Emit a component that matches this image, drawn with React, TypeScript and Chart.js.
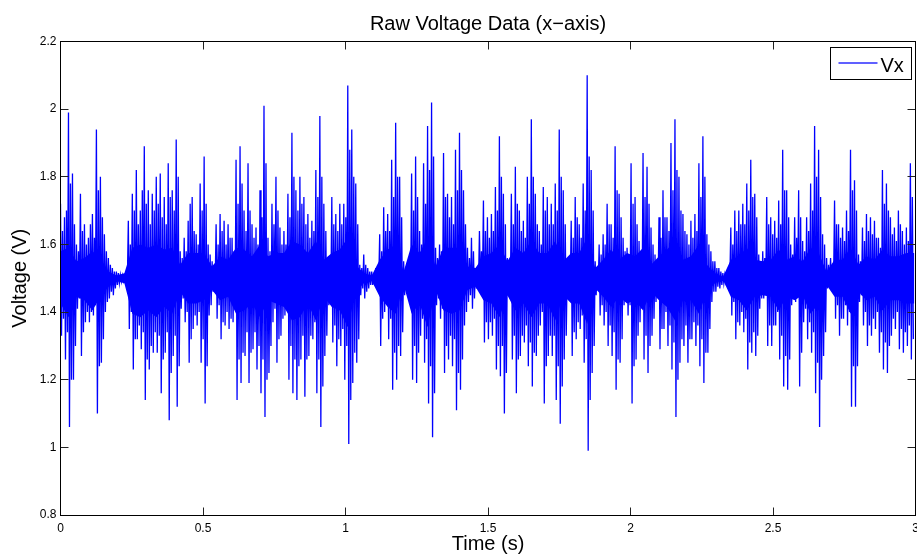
import React, { useEffect, useRef } from "react";
import { Chart, registerables } from "chart.js";

Chart.register(...registerables);

// ---- data ----
// every sampleStep seconds: highest / lowest tip, and second-tier tips
const sampleStep = 0.014;
const vxHigh = [
  1.72, 1.68, 1.99, 1.81, 1.60, 1.75, 1.66, 1.62, 1.69, 1.94,
  1.80, 1.63, 1.56, 1.53, 1.52, 1.51, 1.507, 1.67, 1.75, 1.82,
  1.70, 1.89, 1.76, 1.75, 1.80, 1.81, 1.74, 1.84, 1.76, 1.91,
  1.58, 1.62, 1.67, 1.74, 1.63, 1.78, 1.86, 1.60, 1.55, 1.66,
  1.69, 1.67, 1.66, 1.62, 1.85, 1.89, 1.70, 1.84, 1.66, 1.65,
  1.76, 2.01, 1.62, 1.72, 1.80, 1.65, 1.64, 1.75, 1.93, 1.76,
  1.80, 1.74, 1.69, 1.67, 1.82, 1.98, 1.72, 1.56, 1.74, 1.69,
  1.72, 1.72, 2.07, 1.94, 1.78, 1.54, 1.57, 1.53, 1.52, 1.53,
  1.63, 1.71, 1.69, 1.85, 1.96, 1.80, 1.55, 1.55, 1.81, 1.86,
  1.64, 1.84, 1.95, 2.02, 1.59, 1.60, 1.87, 1.75, 1.74, 1.88,
  1.93, 1.76, 1.59, 1.62, 1.53, 1.64, 1.73, 1.68, 1.69, 1.77,
  1.92, 1.75, 1.56, 1.75, 1.83, 1.70, 1.67, 1.80, 1.97, 1.75,
  1.64, 1.77, 1.74, 1.72, 1.78, 1.94, 1.76, 1.53, 1.67, 1.74,
  1.66, 1.78, 2.10, 1.82, 1.55, 1.60, 1.63, 1.72, 1.66, 1.89,
  1.75, 1.62, 1.59, 1.84, 1.74, 1.61, 1.87, 1.83, 1.65, 1.57,
  1.68, 1.76, 1.68, 1.90, 1.97, 1.80, 1.69, 1.63, 1.67, 1.69,
  1.84, 1.92, 1.63, 1.58, 1.55, 1.53, 1.515, 1.51, 1.65, 1.70,
  1.70, 1.72, 1.78, 1.85, 1.75, 1.57, 1.58, 1.74, 1.68, 1.67,
  1.73, 1.88, 1.76, 1.60, 1.68, 1.76, 1.61, 1.68, 1.78, 1.95,
  1.88, 1.63, 1.56, 1.56, 1.73, 1.66, 1.65, 1.70, 1.88, 1.79,
  1.57, 1.65, 1.69, 1.68, 1.67, 1.62, 1.82, 1.78, 1.68, 1.65,
  1.70, 1.64, 1.65, 1.84,
];
const vxLow = [
  1.33, 1.26, 1.06, 1.20, 1.41, 1.27, 1.37, 1.37, 1.39, 1.10,
  1.25, 1.40, 1.44, 1.45, 1.48, 1.49, 1.495, 1.35, 1.23, 1.32,
  1.29, 1.14, 1.23, 1.28, 1.28, 1.16, 1.28, 1.08, 1.27, 1.12,
  1.41, 1.37, 1.25, 1.35, 1.36, 1.25, 1.13, 1.39, 1.46, 1.38,
  1.32, 1.36, 1.35, 1.37, 1.14, 1.19, 1.27, 1.19, 1.29, 1.23,
  1.16, 1.09, 1.22, 1.37, 1.25, 1.33, 1.39, 1.20, 1.16, 1.14,
  1.26, 1.15, 1.27, 1.32, 1.16, 1.06, 1.27, 1.42, 1.31, 1.24,
  1.30, 1.20, 1.01, 1.19, 1.25, 1.45, 1.44, 1.47, 1.48, 1.48,
  1.30, 1.40, 1.32, 1.17, 1.20, 1.27, 1.45, 1.45, 1.20, 1.19,
  1.33, 1.25, 1.13, 1.03, 1.42, 1.38, 1.22, 1.26, 1.24, 1.11,
  1.17, 1.36, 1.43, 1.41, 1.47, 1.47, 1.31, 1.32, 1.33, 1.23,
  1.21, 1.10, 1.45, 1.26, 1.16, 1.27, 1.31, 1.24, 1.18, 1.27,
  1.36, 1.13, 1.27, 1.27, 1.14, 1.07, 1.26, 1.45, 1.27, 1.32,
  1.35, 1.25, 0.99, 1.22, 1.45, 1.39, 1.36, 1.30, 1.27, 1.17,
  1.25, 1.42, 1.39, 1.13, 1.26, 1.37, 1.26, 1.22, 1.33, 1.43,
  1.29, 1.35, 1.30, 1.23, 1.09, 1.25, 1.30, 1.25, 1.32, 1.30,
  1.24, 1.19, 1.28, 1.43, 1.46, 1.47, 1.485, 1.49, 1.39, 1.32,
  1.36, 1.34, 1.23, 1.28, 1.27, 1.41, 1.44, 1.30, 1.30, 1.36,
  1.26, 1.18, 1.17, 1.42, 1.43, 1.18, 1.37, 1.32, 1.28, 1.16,
  1.06, 1.27, 1.47, 1.48, 1.38, 1.33, 1.38, 1.36, 1.12, 1.12,
  1.43, 1.36, 1.30, 1.33, 1.35, 1.28, 1.23, 1.22, 1.33, 1.35,
  1.29, 1.28, 1.30, 1.26,
];
const vxMidHigh = [
  1.64, 1.70, 1.78, 1.66, 1.58, 1.64, 1.60, 1.66, 1.62, 1.76,
  1.68, 1.58, 1.54, 1.52, 1.515, 1.508, 1.51, 1.60, 1.70, 1.66,
  1.76, 1.72, 1.66, 1.70, 1.72, 1.68, 1.66, 1.74, 1.70, 1.80,
  1.56, 1.58, 1.72, 1.64, 1.60, 1.70, 1.72, 1.57, 1.54, 1.60,
  1.64, 1.60, 1.62, 1.58, 1.72, 1.78, 1.64, 1.70, 1.62, 1.60,
  1.68, 1.84, 1.58, 1.66, 1.70, 1.60, 1.60, 1.68, 1.80, 1.70,
  1.72, 1.66, 1.62, 1.64, 1.74, 1.80, 1.64, 1.54, 1.66, 1.64,
  1.66, 1.68, 1.88, 1.80, 1.66, 1.53, 1.54, 1.52, 1.515, 1.52,
  1.58, 1.64, 1.64, 1.74, 1.80, 1.68, 1.53, 1.54, 1.70, 1.74,
  1.60, 1.72, 1.82, 1.86, 1.56, 1.58, 1.74, 1.68, 1.66, 1.76,
  1.82, 1.66, 1.56, 1.58, 1.52, 1.58, 1.64, 1.62, 1.64, 1.70,
  1.80, 1.66, 1.54, 1.66, 1.72, 1.64, 1.62, 1.72, 1.80, 1.66,
  1.60, 1.70, 1.66, 1.66, 1.70, 1.80, 1.66, 1.52, 1.62, 1.68,
  1.62, 1.70, 1.86, 1.70, 1.53, 1.57, 1.60, 1.66, 1.62, 1.76,
  1.68, 1.58, 1.56, 1.72, 1.66, 1.58, 1.74, 1.72, 1.60, 1.55,
  1.62, 1.68, 1.64, 1.76, 1.82, 1.70, 1.64, 1.60, 1.62, 1.64,
  1.74, 1.80, 1.60, 1.55, 1.53, 1.52, 1.51, 1.505, 1.60, 1.64,
  1.66, 1.66, 1.70, 1.74, 1.68, 1.55, 1.56, 1.66, 1.63, 1.62,
  1.66, 1.76, 1.68, 1.57, 1.62, 1.68, 1.58, 1.64, 1.70, 1.80,
  1.74, 1.60, 1.54, 1.54, 1.66, 1.62, 1.61, 1.64, 1.76, 1.70,
  1.55, 1.61, 1.64, 1.63, 1.62, 1.59, 1.72, 1.70, 1.63, 1.61,
  1.66, 1.60, 1.61, 1.74,
];
const vxMidLow = [
  1.38, 1.34, 1.20, 1.30, 1.44, 1.34, 1.40, 1.40, 1.42, 1.24,
  1.32, 1.43, 1.46, 1.47, 1.485, 1.492, 1.49, 1.40, 1.32, 1.36,
  1.34, 1.26, 1.30, 1.34, 1.33, 1.26, 1.34, 1.22, 1.33, 1.24,
  1.44, 1.40, 1.32, 1.39, 1.40, 1.32, 1.24, 1.42, 1.47, 1.42,
  1.37, 1.40, 1.38, 1.41, 1.26, 1.28, 1.34, 1.28, 1.34, 1.30,
  1.26, 1.20, 1.30, 1.41, 1.32, 1.38, 1.42, 1.30, 1.26, 1.24,
  1.33, 1.26, 1.33, 1.37, 1.26, 1.18, 1.33, 1.45, 1.36, 1.32,
  1.35, 1.30, 1.14, 1.28, 1.32, 1.47, 1.46, 1.48, 1.485, 1.485,
  1.38, 1.43, 1.38, 1.28, 1.30, 1.34, 1.47, 1.47, 1.30, 1.28,
  1.38, 1.32, 1.24, 1.16, 1.44, 1.41, 1.30, 1.33, 1.32, 1.22,
  1.26, 1.40, 1.45, 1.44, 1.48, 1.48, 1.37, 1.37, 1.38, 1.30,
  1.30, 1.22, 1.47, 1.33, 1.26, 1.33, 1.36, 1.31, 1.28, 1.33,
  1.40, 1.24, 1.33, 1.33, 1.24, 1.18, 1.33, 1.47, 1.34, 1.37,
  1.39, 1.32, 1.14, 1.30, 1.47, 1.42, 1.40, 1.36, 1.34, 1.26,
  1.32, 1.44, 1.42, 1.24, 1.33, 1.41, 1.33, 1.30, 1.38, 1.45,
  1.35, 1.40, 1.36, 1.31, 1.20, 1.32, 1.36, 1.32, 1.37, 1.36,
  1.32, 1.28, 1.35, 1.46, 1.475, 1.48, 1.49, 1.495, 1.43, 1.37,
  1.40, 1.38, 1.31, 1.34, 1.33, 1.44, 1.46, 1.36, 1.36, 1.40,
  1.33, 1.27, 1.26, 1.45, 1.46, 1.28, 1.41, 1.37, 1.34, 1.25,
  1.20, 1.34, 1.48, 1.49, 1.42, 1.38, 1.42, 1.40, 1.24, 1.24,
  1.45, 1.40, 1.36, 1.38, 1.40, 1.34, 1.31, 1.30, 1.38, 1.40,
  1.35, 1.34, 1.36, 1.32,
];
// dense (solid-looking) body of the oscillation, every coreStep seconds
const coreStep = 0.028;
const coreHigh = [
  1.58, 1.59, 1.55, 1.56, 1.58, 1.56, 1.52, 1.508, 1.515, 1.59,
  1.60, 1.59, 1.60, 1.585, 1.59, 1.54, 1.575, 1.575, 1.575, 1.535,
  1.565, 1.555, 1.59, 1.585, 1.565, 1.60, 1.565, 1.575, 1.575, 1.61,
  1.60, 1.575, 1.61, 1.555, 1.575, 1.585, 1.62, 1.54, 1.515, 1.508,
  1.555, 1.585, 1.60, 1.52, 1.60, 1.575, 1.62, 1.535, 1.59, 1.59,
  1.59, 1.535, 1.53, 1.565, 1.575, 1.60, 1.55, 1.59, 1.575, 1.61,
  1.575, 1.575, 1.61, 1.55, 1.575, 1.575, 1.62, 1.53, 1.555, 1.585,
  1.555, 1.575, 1.565, 1.59, 1.54, 1.565, 1.585, 1.61, 1.555, 1.565,
  1.60, 1.54, 1.515, 1.504, 1.555, 1.565, 1.59, 1.555, 1.55, 1.555,
  1.585, 1.555, 1.565, 1.55, 1.59, 1.575, 1.52, 1.555, 1.555, 1.59,
  1.54, 1.565, 1.555, 1.585, 1.565, 1.565, 1.575, 1.575,
];
const coreLow = [
  1.425, 1.385, 1.445, 1.435, 1.405, 1.445, 1.475, 1.492, 1.485, 1.395,
  1.385, 1.405, 1.385, 1.415, 1.395, 1.46, 1.425, 1.425, 1.435, 1.465,
  1.435, 1.445, 1.395, 1.405, 1.425, 1.385, 1.435, 1.425, 1.415, 1.375,
  1.385, 1.425, 1.375, 1.445, 1.415, 1.405, 1.355, 1.46, 1.485, 1.492,
  1.445, 1.415, 1.395, 1.48, 1.395, 1.425, 1.355, 1.465, 1.405, 1.395,
  1.405, 1.465, 1.475, 1.435, 1.425, 1.385, 1.45, 1.405, 1.425, 1.385,
  1.425, 1.425, 1.375, 1.45, 1.425, 1.425, 1.365, 1.47, 1.445, 1.415,
  1.445, 1.425, 1.435, 1.405, 1.46, 1.435, 1.415, 1.375, 1.435, 1.435,
  1.395, 1.46, 1.485, 1.496, 1.445, 1.435, 1.405, 1.445, 1.45, 1.445,
  1.405, 1.445, 1.435, 1.45, 1.395, 1.425, 1.48, 1.445, 1.445, 1.395,
  1.46, 1.435, 1.445, 1.405, 1.435, 1.435, 1.425, 1.425,
];
const xTickValues = [0, 0.5, 1, 1.5, 2, 2.5, 3];
const yTickValues = [0.8, 1, 1.2, 1.4, 1.6, 1.8, 2, 2.2];
const seriesLabel = "Vx";
const chartTitle = "Raw Voltage Data (x\u2212axis)";
const xAxisTitle = "Time (s)";
const yAxisTitle = "Voltage (V)";

const FONT = "'Liberation Sans', Arial, Helvetica, sans-serif";
const BLUE = "#0000ff";

const framePlugin = {
  id: "matlabFrame",
  afterDatasetsDraw(chart: any) {
    const { ctx, chartArea, scales } = chart;
    const L = Math.floor(chartArea.left) + 0.5;
    const R = Math.floor(chartArea.right) + 0.5;
    const T = Math.floor(chartArea.top) + 0.5;
    const B = Math.floor(chartArea.bottom) + 0.5;
    ctx.save();
    ctx.lineWidth = 1;
    ctx.strokeStyle = "#222";
    const tl = 8;
    ctx.beginPath();
    xTickValues.forEach((v) => {
      const x = Math.floor(scales.x.getPixelForValue(v)) + 0.5;
      ctx.moveTo(x, B);
      ctx.lineTo(x, B - tl);
      ctx.moveTo(x, T);
      ctx.lineTo(x, T + tl);
    });
    yTickValues.forEach((v) => {
      const y = Math.floor(scales.y.getPixelForValue(v)) + 0.5;
      ctx.moveTo(L, y);
      ctx.lineTo(L + tl, y);
      ctx.moveTo(R, y);
      ctx.lineTo(R - tl, y);
    });
    ctx.stroke();
    ctx.strokeStyle = "#000";
    ctx.strokeRect(L, T, R - L, B - T);

    // legend box (inside the axes, top right)
    const ds = chart.data.datasets[0];
    const bw = 81;
    const bh = 32;
    const bx = Math.floor(chartArea.right - 4.5 - bw) + 0.5;
    const by = Math.floor(chartArea.top + 5.5) + 0.5;
    ctx.fillStyle = "#fff";
    ctx.fillRect(bx, by, bw, bh);
    ctx.strokeStyle = "#000";
    ctx.strokeRect(bx, by, bw, bh);
    const ly = Math.floor(by + bh / 2);
    ctx.strokeStyle = "#2b2bff";
    ctx.lineWidth = 1.4;
    ctx.beginPath();
    ctx.moveTo(bx + 8, ly);
    ctx.lineTo(bx + 47, ly);
    ctx.stroke();
    ctx.fillStyle = "#000";
    ctx.font = `20px ${FONT}`;
    ctx.textBaseline = "alphabetic";
    ctx.textAlign = "left";
    ctx.fillText(ds.label, bx + 50, by + 24.5);
    ctx.restore();
  },
};

export default function App() {
  const canvasRef = useRef<HTMLCanvasElement | null>(null);

  useEffect(() => {
    const canvas = canvasRef.current;
    if (!canvas) return;
    const points: { x: number; y: number }[] = [];
    vxHigh.forEach((h, k) => {
      const t = k * sampleStep;
      points.push({ x: t, y: h });
      points.push({ x: t + sampleStep * 0.25, y: vxLow[k] });
      points.push({ x: t + sampleStep * 0.5, y: vxMidHigh[k] });
      points.push({ x: t + sampleStep * 0.75, y: vxMidLow[k] });
    });
    const coreTop = coreHigh.map((v, j) => ({ x: Math.min(3, j * coreStep), y: v }));
    const coreBottom = coreLow.map((v, j) => ({ x: Math.min(3, j * coreStep), y: v }));

    const chart = new Chart(canvas, {
      type: "line",
      data: {
        datasets: [
          {
            label: seriesLabel,
            data: points,
            borderColor: BLUE,
            backgroundColor: BLUE,
            borderWidth: 1.3,
            pointRadius: 0,
            pointHoverRadius: 0,
            tension: 0,
            fill: false,
            order: 0,
          },
          {
            label: "Vx body",
            data: coreTop,
            borderColor: BLUE,
            backgroundColor: BLUE,
            borderWidth: 0,
            pointRadius: 0,
            tension: 0,
            fill: 2,
            order: 1,
          },
          {
            label: "Vx body low",
            data: coreBottom,
            borderColor: BLUE,
            backgroundColor: BLUE,
            borderWidth: 0,
            pointRadius: 0,
            tension: 0,
            fill: false,
            order: 2,
          },
        ],
      },
      options: {
        responsive: false,
        animation: false,
        devicePixelRatio: 1,
        parsing: false,
        normalized: true,
        events: [],
        layout: { padding: { top: 0, right: 1.5, bottom: 0, left: 0 } },
        plugins: {
          legend: { display: false },
          tooltip: { enabled: false },
          filler: { propagate: false },
          title: {
            display: true,
            text: chartTitle,
            fullSize: false,
            color: "#000",
            font: { family: FONT, size: 20, weight: "normal", lineHeight: 1.2 },
            padding: { top: 12, bottom: 5.5 },
          },
        },
        scales: {
          x: {
            type: "linear",
            min: 0,
            max: 3,
            grid: { display: false, drawTicks: false },
            border: { display: false },
            afterBuildTicks: (scale: any) => {
              scale.ticks = xTickValues.map((v) => ({ value: v }));
            },
            afterFit: (scale: any) => {
              scale.height = 42;
              scale.paddingLeft = 0;
              scale.paddingRight = 0;
            },
            ticks: {
              color: "#000",
              padding: 6,
              autoSkip: false,
              maxRotation: 0,
              font: { family: FONT, size: 12 },
              callback: (v: any) => String(v),
            },
            title: {
              display: true,
              text: xAxisTitle,
              color: "#000",
              font: { family: FONT, size: 20, lineHeight: 1.2 },
              padding: { top: 0, bottom: 1 },
            },
          },
          y: {
            type: "linear",
            min: 0.8,
            max: 2.2,
            grid: { display: false, drawTicks: false },
            border: { display: false },
            afterBuildTicks: (scale: any) => {
              scale.ticks = yTickValues.map((v) => ({ value: v }));
            },
            afterFit: (scale: any) => {
              scale.width = 60.5;
              scale.paddingTop = 0;
              scale.paddingBottom = 0;
            },
            ticks: {
              color: "#000",
              padding: 4,
              autoSkip: false,
              font: { family: FONT, size: 12 },
              callback: (v: any) => String(Math.round(v * 10) / 10),
            },
            title: {
              display: true,
              text: yAxisTitle,
              color: "#000",
              font: { family: FONT, size: 20, lineHeight: 1.2 },
              padding: { top: 8, bottom: 0 },
            },
          },
        },
      },
      plugins: [framePlugin],
    } as any);

    return () => chart.destroy();
  }, []);

  return (
    <div style={{ position: "absolute", left: 0, top: 0, width: 917, height: 557, background: "#fff" }}>
      <canvas ref={canvasRef} width={917} height={557} />
    </div>
  );
}
